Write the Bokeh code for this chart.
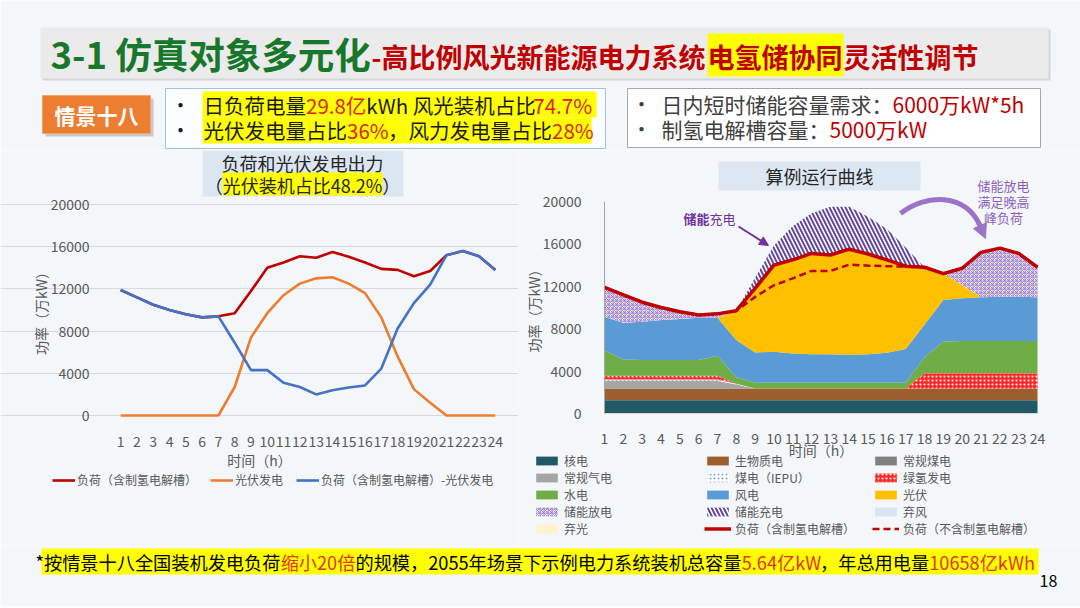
from bokeh.plotting import figure
from bokeh.models import (ColumnDataSource, Range1d, FixedTicker, Legend, LegendItem,
                          Arrow, NormalHead)
from bokeh.layouts import column, row
from bokeh.transform import stack
from bokeh.core.properties import value
from bokeh.embed import file_html
from bokeh.resources import INLINE

FONT = "Noto Sans CJK SC"
BG = "#f4f7f9"
RED = "#c00000"

# ---------------- data ----------------
hours = list(range(1, 25))
hour_labels = [str(h) for h in hours]
power_ticks = [0, 4000, 8000, 12000, 16000, 20000]

# left chart: load, PV output, load minus PV (万kW)
load_h2 = [11900, 11200, 10500, 10000, 9600, 9300, 9400, 9700, 11800, 14000, 14500, 15100,
           14950, 15500, 15050, 14500, 13900, 13800, 13200, 13700, 15200, 15600, 15100, 13800]
pv_output = [0, 0, 0, 0, 0, 0, 0, 2700, 7400, 9700, 11400, 12500,
             13000, 13100, 12500, 11600, 9300, 5600, 2500, 1200, 0, 0, 0, 0]
net_load = [11900, 11200, 10500, 10000, 9600, 9300, 9400, 6900, 4300, 4300, 3100, 2700,
            2000, 2400, 2650, 2850, 4450, 8250, 10650, 12400, 15200, 15600, 15100, 13800]

# right chart: stacked layers (万kW)
nuclear = [1250, 1250, 1250, 1250, 1250, 1250, 1250, 1250, 1250, 1250, 1250, 1250,
           1250, 1250, 1250, 1250, 1250, 1250, 1250, 1250, 1250, 1250, 1250, 1250]
biomass = [1100, 1100, 1100, 1100, 1100, 1100, 1100, 1100, 1100, 1100, 1100, 1100,
           1100, 1100, 1100, 1100, 1100, 1100, 1100, 1100, 1100, 1100, 1100, 1100]
coal = [0, 0, 0, 0, 0, 0, 0, 0, 0, 0, 0, 0, 0, 0, 0, 0, 0, 0, 0, 0, 0, 0, 0, 0]
gas = [750, 750, 750, 750, 750, 750, 750, 380, 0, 0, 0, 0, 0, 0, 0, 0, 0, 0, 0, 0, 0, 0, 0, 0]
iepu = [100, 100, 100, 100, 100, 100, 100, 80, 0, 0, 0, 0, 0, 0, 0, 0, 0, 0, 0, 0, 0, 0, 0, 0]
green_h2 = [350, 350, 350, 350, 350, 350, 350, 0, 0, 0, 0, 0,
            0, 0, 0, 0, 0, 1450, 1450, 1450, 1450, 1450, 1450, 1450]
hydro = [2400, 1550, 1500, 1500, 1500, 1500, 1900, 600, 550, 550, 550, 550,
         550, 550, 550, 550, 550, 1500, 3000, 3050, 3050, 3050, 3050, 3050]
wind = [3180, 3470, 3610, 3770, 3860, 3990, 3590, 3520, 2860, 2930, 2770, 2700,
        2700, 2640, 2700, 2830, 3180, 3100, 3910, 4020, 4110, 4170, 4170, 4110]
solar = [0, 0, 0, 0, 0, 0, 0, 2770, 6040, 8170, 8830, 9500,
         9350, 9960, 9450, 8770, 7820, 5400, 2490, 1260, 0, 0, 0, 0]
discharge = [2770, 2630, 1840, 1180, 690, 260, 360, 0, 0, 0, 0, 0,
             0, 0, 0, 0, 0, 0, 0, 1570, 4240, 4580, 4080, 2840]
charge = [0, 0, 0, 0, 0, 0, 0, 0, 1000, 1850, 3200, 3800,
          4550, 4000, 3500, 2900, 1750, 0, 0, 0, 0, 0, 0, 0]
curt_wind = [0, 0, 0, 0, 0, 0, 0, 0, 0, 0, 0, 0, 0, 0, 0, 0, 0, 0, 0, 0, 0, 0, 0, 0]
curt_pv = [0, 0, 0, 0, 0, 0, 0, 0, 0, 0, 0, 0, 0, 0, 0, 0, 0, 0, 0, 0, 0, 0, 0, 0]
load_no_h2 = [11900, 11200, 10500, 10000, 9600, 9300, 9400, 9700, 11000, 12100, 12750, 13450,
              13450, 14050, 13950, 13900, 13850, 13800, 13200, 13700, 15200, 15600, 15100, 13800]

# ---------------- helpers ----------------
WID = {'.': 0.28, '%': 0.89, 'k': 0.52, 'W': 0.84, 'h': 0.56, ' ': 0.224, '*': 0.47, '-': 0.34}


def est(s, size):
    w = 0.0
    for ch in s:
        if ch.isdigit():
            w += 0.555
        elif ch in WID:
            w += WID[ch]
        elif ord(ch) < 128:
            w += 0.55
        else:
            w += 1.0
    return w * size


def txt(p, x, y, s, size, color, align="left", bold=False, **kw):
    p.text(x=[x], y=[y], text=[s], text_color=color, text_font=value(FONT),
           text_font_size=f"{size}px", text_baseline="middle", text_align=align,
           text_font_style="bold" if bold else "normal", **kw)


def seq(p, x, y, parts, size, bold=False, **kw):
    for s, col in parts:
        txt(p, x, y, s, size, col, bold=bold, **kw)
        x += est(s, size)


def prange(pa, va, pb, vb, p_start, p_end):
    """Range whose start/end sit at pixel p_start/p_end given two anchor pixels."""
    k = (vb - va) / (pb - pa)
    return Range1d(va + (p_start - pa) * k, va + (p_end - pa) * k)


def canvas(w, h, x0, x1, y_bottom, y_top):
    p = figure(width=w, height=h, x_range=Range1d(x0, x1), y_range=Range1d(y_bottom, y_top),
               x_axis_location=None, y_axis_location=None, toolbar_location=None,
               output_backend="svg", min_border=0, outline_line_color=None,
               background_fill_color=BG, border_fill_color=BG)
    p.grid.visible = False
    return p


# ---------------- header (page y 0..150) ----------------
ph = canvas(1080, 150, 0, 1080, 150, 0)
ph.quad(left=[42], right=[1050], top=[29], bottom=[80], fill_color="#d3d7da", line_color=None)
ph.quad(left=[40], right=[1048], top=[27], bottom=[78], fill_color="#ebebeb", line_color=None)
ph.quad(left=[707], right=[843], top=[33], bottom=[76], fill_color="#ffff00", line_color=None)
txt(ph, 50, 53, "3-1 仿真对象多元化", 36.5, "#17782b", bold=True)
txt(ph, 371, 56, "-高比例风光新能源电力系统", 27, RED, bold=True)
txt(ph, 707, 56, "电氢储协同", 27, RED, bold=True)
txt(ph, 843, 56, "灵活性调节", 27, RED, bold=True)

# scenario tag
ph.quad(left=[45], right=[153], top=[98], bottom=[136], fill_color="#c9c9c9", line_color=None)
ph.quad(left=[42], right=[150], top=[95], bottom=[133], fill_color="#ed7d31", line_color="#f4a470")
txt(ph, 96, 114, "情景十八", 21, "white", align="center", bold=True)

# box 1
ph.quad(left=[165], right=[605], top=[88], bottom=[148], fill_color="#fbfdff", line_color="#9dc3e6")
ph.quad(left=[202], right=[596], top=[91], bottom=[117], fill_color="#ffff00", line_color=None)
ph.quad(left=[202], right=[591], top=[117], bottom=[143], fill_color="#ffff00", line_color=None)
BRED = "#d9261c"
DARK = "#1a1a1a"
txt(ph, 180, 104, "•", 20, DARK, align="center")
txt(ph, 180, 129, "•", 20, DARK, align="center")
seq(ph, 203, 104, [("日负荷电量", DARK), ("29.8亿", BRED), ("kWh 风光装机占比", DARK), ("74.7%", BRED)], 20.5)
seq(ph, 203, 129, [("光伏发电量占比", DARK), ("36%", BRED), ("，风力发电量占比", DARK), ("28%", BRED)], 20.5)

# box 2
ph.quad(left=[627], right=[1040], top=[88], bottom=[147], fill_color="#ffffff", line_color="#a6a6a6")
G4 = "#404040"
txt(ph, 641, 103, "•", 20, G4, align="center")
txt(ph, 641, 128, "•", 20, G4, align="center")
seq(ph, 661, 103, [("日内短时储能容量需求：", G4), ("6000万kW*5h", RED)], 21)
seq(ph, 661, 128, [("制氢电解槽容量：", G4), ("5000万kW", RED)], 21)


# ---------------- common axis styling ----------------
def style_axes(p, x0, y0):
    p.yaxis.ticker = FixedTicker(ticks=power_ticks)
    p.xaxis.ticker = FixedTicker(ticks=hours)
    p.xaxis.major_label_overrides = {h: l for h, l in zip(hours, hour_labels)}
    p.xaxis.fixed_location = y0
    p.yaxis.fixed_location = x0
    p.yaxis.bounds = (0, 20000)
    p.axis.major_tick_line_color = None
    p.axis.minor_tick_line_color = None
    p.axis.major_label_text_font = FONT
    p.axis.major_label_text_font_size = "14px"
    p.axis.major_label_text_color = "#595959"
    p.axis.axis_label_text_font = FONT
    p.axis.axis_label_text_font_size = "14px"
    p.axis.axis_label_text_color = "#595959"
    p.axis.axis_label_text_font_style = "normal"
    p.yaxis.axis_label = "功率（万kW）"
    p.xaxis.axis_label = "时间（h）"


# ---------------- left chart (page x 0..518, y 150..545) ----------------
pl = figure(width=518, height=395,
            x_range=prange(112, 0.5, 503, 24.5, 0, 518),
            y_range=prange(415, 0, 204, 20000, 545, 150),
            toolbar_location=None, output_backend="svg", min_border=0,
            outline_line_color=None, background_fill_color=BG, border_fill_color=BG)
pl.extra_x_ranges = {"px": Range1d(0, 518)}
pl.extra_y_ranges = {"px": Range1d(545, 150)}
style_axes(pl, 0.5, 0)
pl.axis.axis_line_color = None
pl.xgrid.grid_line_color = None
pl.ygrid.grid_line_color = "#d9d9d9"
pl.ygrid.bounds = (0.5, 24.5)
pl.xaxis.major_label_standoff = 14
pl.xaxis.axis_label_standoff = 0
pl.yaxis.major_label_standoff = 17
pl.yaxis.axis_label_standoff = -3

srcL = ColumnDataSource(dict(hour=hours, load=load_h2, pv=pv_output, net=net_load))
rl1 = pl.line(x="hour", y="load", source=srcL, line_color=RED, line_width=2.6)
rl2 = pl.line(x="hour", y="pv", source=srcL, line_color="#ed7d31", line_width=2.6)
rl3 = pl.line(x="hour", y="net", source=srcL, line_color="#4472c4", line_width=2.6)

# chart title box
pl.quad(left=[202], right=[403], top=[150], bottom=[196], fill_color="#dce6f0", line_color=None,
        x_range_name="px", y_range_name="px")
pl.quad(left=[222], right=[382], top=[172], bottom=[195], fill_color="#ffff00", line_color=None,
        x_range_name="px", y_range_name="px")
txt(pl, 302, 162, "负荷和光伏发电出力", 18, "#262626", align="center", x_range_name="px", y_range_name="px")
txt(pl, 302, 184, "（光伏装机占比48.2%）", 18, "#262626", align="center", x_range_name="px", y_range_name="px")

legL = Legend(items=[LegendItem(label="负荷（含制氢电解槽）", renderers=[rl1]),
                     LegendItem(label="光伏发电", renderers=[rl2]),
                     LegendItem(label="负荷（含制氢电解槽）-光伏发电", renderers=[rl3])],
              orientation="horizontal", location=(52, 57), padding=0, margin=0, spacing=13,
              glyph_width=23, glyph_height=14, label_height=14, label_standoff=2,
              label_text_font=FONT, label_text_font_size="12px", label_text_color="#595959",
              border_line_color=None, background_fill_alpha=0)
pl.add_layout(legL)

# ---------------- right chart (page x 518..1080, y 150..545) ----------------
pr = figure(width=562, height=395,
            x_range=prange(604, 1, 1037, 24, 518, 1080),
            y_range=prange(413, 0, 201, 20000, 545, 150),
            toolbar_location=None, output_backend="svg", min_border=0,
            outline_line_color=None, background_fill_color=BG, border_fill_color=BG)
pr.extra_x_ranges = {"px": Range1d(518, 1080)}
pr.extra_y_ranges = {"px": Range1d(545, 150)}
style_axes(pr, 1, 0)
pr.grid.grid_line_color = None
pr.yaxis.axis_line_color = "#a6a6a6"
pr.xaxis.axis_line_color = "#d9d9d9"
pr.xaxis.bounds = (1, 24)
pr.xaxis.major_label_standoff = 13
pr.xaxis.axis_label_standoff = -7
pr.yaxis.major_label_standoff = 17
pr.yaxis.axis_label_standoff = -4

srcR = ColumnDataSource(dict(hour=hours, nuclear=nuclear, biomass=biomass, coal=coal, gas=gas,
                             iepu=iepu, green_h2=green_h2, hydro=hydro, wind=wind, solar=solar,
                             discharge=discharge, charge=charge, curt_wind=curt_wind,
                             curt_pv=curt_pv, load=load_h2, load_no_h2=load_no_h2))

layers = [
    ("nuclear", "核电", dict(fill_color="#215968")),
    ("biomass", "生物质电", dict(fill_color="#9c5f2e")),
    ("coal", "常规煤电", dict(fill_color="#7f7f7f")),
    ("gas", "常规气电", dict(fill_color="#a6a6a6")),
    ("iepu", "煤电（IEPU）", dict(fill_color="#ffffff", hatch_pattern="dot", hatch_color="#7f9cc6",
                                hatch_scale=4, hatch_weight=1.5)),
    ("green_h2", "绿氢发电", dict(fill_color="#ff2a2a", hatch_pattern="dot", hatch_color="#ffffff",
                              hatch_scale=4, hatch_weight=1.5)),
    ("hydro", "水电", dict(fill_color="#70ad47")),
    ("wind", "风电", dict(fill_color="#5b9bd5")),
    ("solar", "光伏", dict(fill_color="#ffc000")),
    ("discharge", "储能放电", dict(fill_color="#ffffff", hatch_pattern="criss_cross",
                               hatch_color="#a383cf", hatch_scale=4, hatch_weight=1)),
    ("charge", "储能充电", dict(fill_color="#ffffff", hatch_pattern="left_diagonal_line",
                            hatch_color="#64479c", hatch_scale=8, hatch_weight=2)),
    ("curt_wind", "弃风", dict(fill_color="#dae3f3")),
    ("curt_pv", "弃光", dict(fill_color="#fff2cc")),
]
rend = {}
names = []
for key, lab, sty in layers:
    r = pr.varea(x="hour", y1=stack(*names), y2=stack(*names, key), source=srcR, **sty)
    names.append(key)
    rend[key] = (lab, r)

r_load = pr.line(x="hour", y="load", source=srcR, line_color=RED, line_width=3.5)
r_load2 = pr.line(x="hour", y="load_no_h2", source=srcR, line_color=RED, line_width=2.5,
                  line_dash="7 4")
rend["load"] = ("负荷（含制氢电解槽）", r_load)
rend["load2"] = ("负荷（不含制氢电解槽）", r_load2)

cols = [["nuclear", "gas", "hydro", "discharge", "curt_pv"],
        ["biomass", "iepu", "wind", "charge", "load"],
        ["coal", "green_h2", "solar", "curt_wind", "load2"]]
for cx, keys in zip([15, 186, 354], cols):
    leg = Legend(items=[LegendItem(label=rend[k][0], renderers=[rend[k][1]]) for k in keys],
                 orientation="vertical", location=(cx, 8), padding=0, margin=0, spacing=-2,
                 glyph_width=27, glyph_height=11, label_height=14, label_standoff=4,
                 label_text_font=FONT, label_text_font_size="12px", label_text_color="#595959",
                 border_line_color=None, background_fill_alpha=0)
    pr.add_layout(leg)

# title box & annotations
pr.quad(left=[718], right=[920], top=[161], bottom=[190], fill_color="#dde8f2", line_color=None,
        x_range_name="px", y_range_name="px")
txt(pr, 819, 175.5, "算例运行曲线", 18, "#262626", align="center", x_range_name="px", y_range_name="px")
PUR = "#7030a0"
txt(pr, 709, 218, "储能", 13, PUR, align="right", bold=True, x_range_name="px", y_range_name="px")
txt(pr, 709, 218, "充电", 13, PUR, align="left", x_range_name="px", y_range_name="px")
pr.add_layout(Arrow(end=NormalHead(size=9, fill_color=PUR, line_color=PUR),
                    x_start=738, y_start=226, x_end=768, y_end=245, line_color=PUR, line_width=2,
                    x_range_name="px", y_range_name="px"))
LP = "#8e5fc2"
txt(pr, 1003, 185, "储能放电", 13, LP, align="center", x_range_name="px", y_range_name="px")
txt(pr, 1003, 201, "满足晚高", 13, LP, align="center", x_range_name="px", y_range_name="px")
txt(pr, 1003, 217, "峰负荷", 13, LP, align="center", x_range_name="px", y_range_name="px")
AC = "#9b74c9"
pr.bezier(x0=[900], y0=[213], x1=[980], y1=[226], cx0=[925], cy0=[193], cx1=[965], cy1=[192],
          line_color=AC, line_width=5, x_range_name="px", y_range_name="px")
pr.add_layout(Arrow(end=NormalHead(size=14, fill_color=AC, line_color=AC),
                    x_start=978, y_start=222, x_end=985, y_end=238, line_color=AC, line_width=5,
                    x_range_name="px", y_range_name="px"))

# ---------------- footer (page y 545..606) ----------------
pf = canvas(1080, 61, 0, 1080, 606, 545)
pf.quad(left=[41], right=[1038], top=[548], bottom=[574], fill_color="#ffff00", line_color=None)
FR = "#e5331b"
seq(pf, 35, 561, [("*按情景十八全国装机发电负荷", "#000000"), ("缩小20倍", FR),
                  ("的规模，2055年场景下示例电力系统装机总容量", "#000000"), ("5.64亿kW", FR),
                  ("，年总用电量", "#000000"), ("10658亿kWh", FR)], 18.2)
txt(pf, 1048, 580, "18", 16, "#000000", align="center")

layout = column(ph, row(pl, pr), pf)
open("out.html", "w").write(file_html(layout, INLINE))
